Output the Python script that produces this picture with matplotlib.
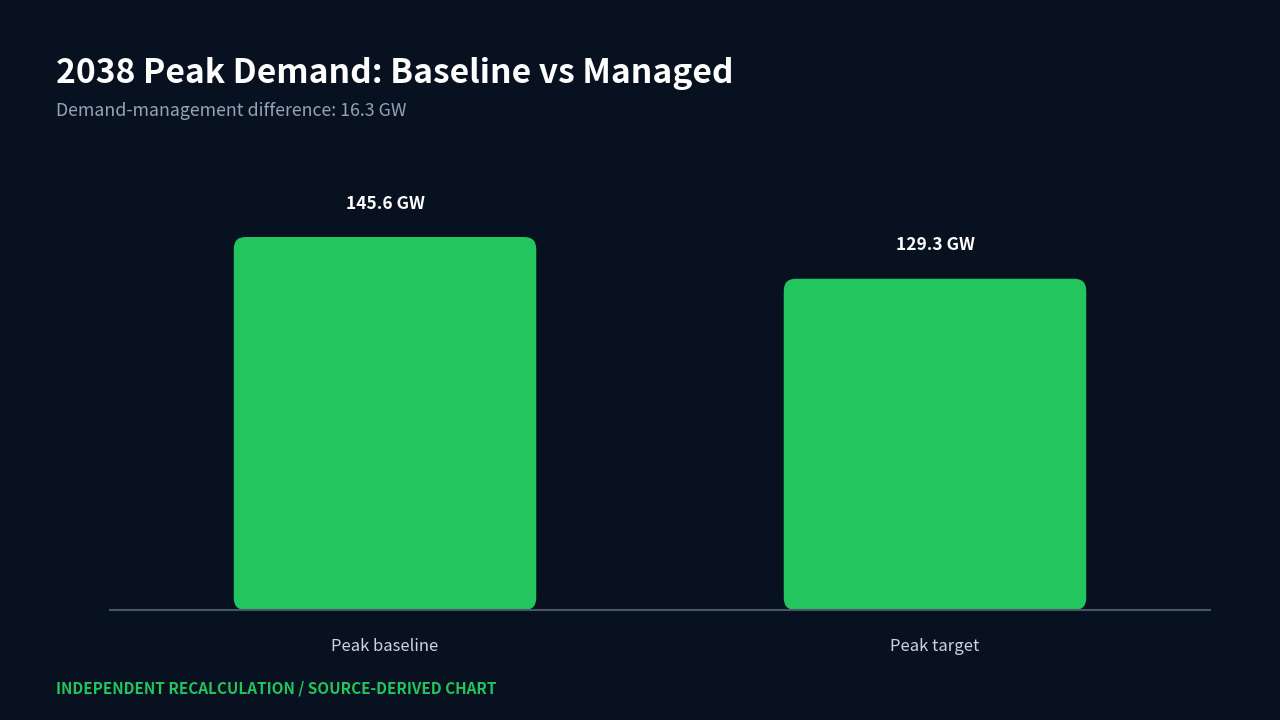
import matplotlib
matplotlib.use("Agg")
import matplotlib.pyplot as plt
from matplotlib.patches import FancyBboxPatch

plt.rcParams['font.family'] = ['Noto Sans CJK KR', 'DejaVu Sans']

categories = ["Peak baseline", "Peak target"]
values = [145.6, 129.3]
value_labels = ["145.6 GW", "129.3 GW"]

BG = "#08111f"
GREEN = "#22c55e"

fig = plt.figure(figsize=(12.8, 7.2), dpi=100, facecolor=BG)
# axes spans x 110..1210 px, y 610 (baseline) up to ~160 px
ax = fig.add_axes([110 / 1280, 1 - 610 / 720, 1100 / 1280, 450 / 720])
ax.set_facecolor(BG)

ymax = max(values) * 450 / 373
ax.set_xlim(-0.5, len(categories) - 0.5)
ax.set_ylim(0, ymax)

width = 0.55
bars = ax.bar(range(len(values)), values, width=width, color=GREEN)

# swap plain bars for rounded ones
xu = (len(categories)) / 1100.0
yu = ymax / 450.0
for b in bars:
    b.set_visible(False)
    p = FancyBboxPatch((b.get_x(), 0), b.get_width(), b.get_height(),
                       boxstyle="round,pad=0,rounding_size=%f" % (12 * xu),
                       mutation_aspect=yu / xu, facecolor=GREEN,
                       edgecolor="none", zorder=2)
    ax.add_patch(p)

for i, (v, lab) in enumerate(zip(values, value_labels)):
    ax.annotate(lab, (i, v), xytext=(0, 24), textcoords="offset points",
                ha="center", va="center", color="white", fontsize=12.5,
                fontweight="bold")

for s in ["top", "right", "left"]:
    ax.spines[s].set_visible(False)
ax.spines["bottom"].set_color("#475569")
ax.spines["bottom"].set_linewidth(1.5)
ax.spines["bottom"].set_zorder(3)
ax.set_yticks([])
ax.set_xticks(range(len(categories)))
ax.set_xticklabels(categories, color="#cbd5e1", fontsize=12)
ax.tick_params(axis="x", length=0, pad=20)

fig.text(56 / 1280, 1 - 83 / 720, "2038 Peak Demand: Baseline vs Managed",
         color="white", fontsize=24.2, fontweight="bold", va="baseline")
fig.text(56 / 1280, 1 - 116 / 720, "Demand-management difference: 16.3 GW",
         color="#94a3b8", fontsize=12.8, va="baseline")
fig.text(56 / 1280, 1 - 693 / 720, "INDEPENDENT RECALCULATION / SOURCE-DERIVED CHART",
         color=GREEN, fontsize=11, fontweight="bold", va="baseline")

fig.savefig("out.png", dpi=100, facecolor=BG)
